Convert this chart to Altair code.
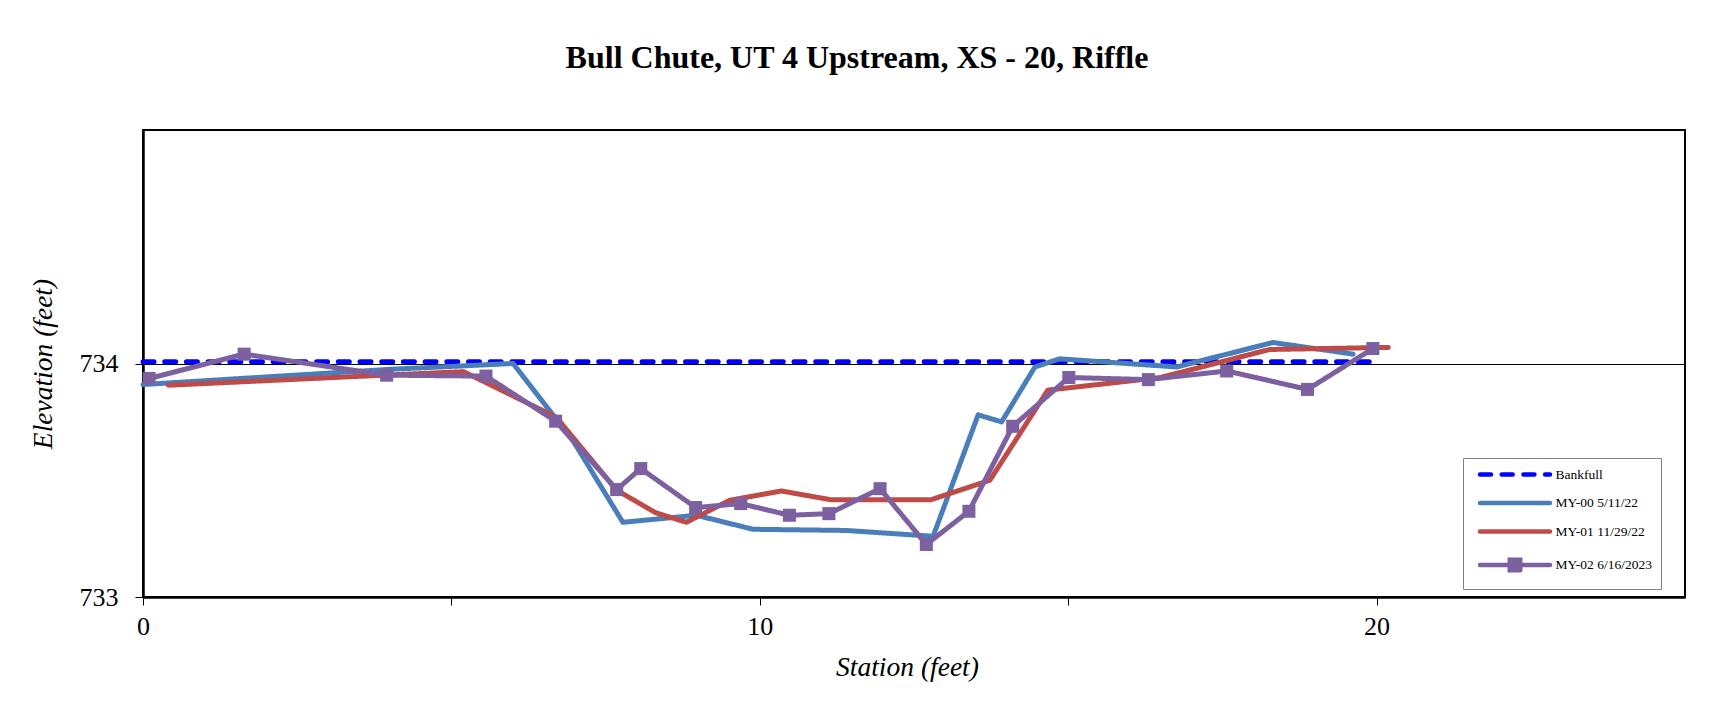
import altair as alt
import pandas as pd

series_names = ["Bankfull", "MY-00 5/11/22", "MY-01 11/29/22", "MY-02 6/16/2023"]
series_colors = ["#0000FF", "#4A7EBB", "#BE4B48", "#7D60A0"]

bank_x = [0.0, 19.92]
bank_y = [734.007, 734.007]

my00_x = [0.0, 4.0, 6.0, 6.97, 7.78, 8.97, 9.89, 11.4, 12.81, 13.54, 13.92, 14.46, 14.86, 16.76, 18.32, 19.62]
my00_y = [733.91, 733.975, 734.0, 733.67, 733.32, 733.35, 733.29, 733.285, 733.26, 733.78, 733.75, 733.985, 734.02, 733.985, 734.09, 734.04]

my01_x = [0.41, 3.9, 5.2, 6.70, 7.68, 8.32, 8.81, 9.51, 10.35, 11.14, 12.78, 13.73, 14.67, 16.5, 18.27, 20.19]
my01_y = [733.907, 733.95, 733.965, 733.77, 733.457, 733.36, 733.32, 733.414, 733.454, 733.417, 733.417, 733.50, 733.886, 733.94, 734.06, 734.069]

my02_x = [0.10, 1.64, 3.95, 5.56, 6.69, 7.68, 8.07, 8.96, 9.69, 10.48, 11.12, 11.95, 12.70, 13.39, 14.10, 15.01, 16.30, 17.57, 18.88, 19.94]
my02_y = [733.936, 734.04, 733.95, 733.946, 733.753, 733.46, 733.55, 733.383, 733.40, 733.35, 733.357, 733.464, 733.225, 733.367, 733.731, 733.94, 733.931, 733.968, 733.889, 734.064]

x_ticks = [0, 5, 10, 15, 20]
y_ticks = [733, 734]

rows = []
for name, xs, ys in zip(series_names, [bank_x, my00_x, my01_x, my02_x], [bank_y, my00_y, my01_y, my02_y]):
    for i, (sx, sy) in enumerate(zip(xs, ys)):
        rows.append({"series": name, "station": sx, "elevation": sy, "order": i})
df = pd.DataFrame(rows)

FONT = "Liberation Serif"

x_enc = alt.X("station:Q", scale=alt.Scale(domain=[0, 25], nice=False, zero=False),
              axis=alt.Axis(values=x_ticks, title="Station (feet)", format="d",
                            labelExpr="datum.value % 10 == 0 ? datum.label : ''",
                            labelFont=FONT, labelFontSize=26, labelColor="black",
                            labelFlush=False, labelPadding=8,
                            tickSize=8, tickColor="black", tickWidth=1,
                            domainColor="black", domainWidth=2.5,
                            titleFont=FONT, titleFontSize=27.5, titleFontStyle="italic",
                            titleFontWeight="normal", titleColor="black", titlePadding=14,
                            titleX=764, titleAnchor="middle",
                            grid=False))
y_enc = alt.Y("elevation:Q", scale=alt.Scale(domain=[733, 735], nice=False, zero=False),
              axis=alt.Axis(values=y_ticks, title="Elevation (feet)",
                            format="d",
                            labelFont=FONT, labelFontSize=26, labelColor="black",
                            labelPadding=17,
                            tickSize=8, tickColor="black", tickWidth=1,
                            domainColor="black", domainWidth=2.5,
                            grid=True, gridColor="black", gridWidth=1,
                            titleFont=FONT, titleFontSize=27.5, titleFontStyle="italic",
                            titleFontWeight="normal", titleColor="black", titlePadding=22))

legend = alt.Legend(
    title=None, orient="none", legendX=1320, legendY=328,
    symbolSize=100, symbolStrokeWidth=4.5, symbolOffset=35.5,
    labelFont=FONT, labelFontSize=13.5, labelColor="black",
    rowPadding=9.5, padding=9, labelOffset=33,
    strokeColor="#808080", fillColor="white",
)

LEGEND_ENCODE = {"symbols": {"update": {
    "shape": {"signal": "datum.value === 'MY-02 6/16/2023' ? 'M-7,0H7M-1.05,-1.05H1.05V1.05H-1.05Z' : 'M-7,0H7'"},
    "strokeDash": {"signal": "datum.value === 'Bankfull' ? [7.5, 8.5] : [1, 0]"},
    "strokeCap": {"value": "round"},
    "fill": {"signal": "datum.value === 'MY-02 6/16/2023' ? '#7D60A0' : 'transparent'"},
    "opacity": {"value": 1},
}}}


def _add_legend_encode(obj):
    if isinstance(obj, dict):
        if "legendX" in obj and "legendY" in obj:
            obj["encode"] = LEGEND_ENCODE
        for v in obj.values():
            _add_legend_encode(v)
    elif isinstance(obj, list):
        for v in obj:
            _add_legend_encode(v)


class PatchedLayer(alt.LayerChart):
    def to_dict(self, *args, **kwargs):
        d = super().to_dict(*args, **kwargs)
        _add_legend_encode(d)
        return d


base = alt.Chart(df)

lines = base.mark_line(strokeWidth=5, strokeCap="round", strokeJoin="round").encode(
    x=x_enc, y=y_enc,
    color=alt.Color("series:N", scale=alt.Scale(domain=series_names, range=series_colors), legend=legend),
    strokeDash=alt.StrokeDash("series:N", scale=alt.Scale(domain=series_names,
                                                          range=[[11, 10.7], [1, 0], [1, 0], [1, 0]]),
                              legend=None),
    order="order:Q",
)

points = base.transform_filter(alt.datum.series == "MY-02 6/16/2023").mark_square(
    size=170, color="#7D60A0", opacity=1
).encode(x="station:Q", y="elevation:Q")

chart = alt.layer(lines, points).properties(
    width=1542, height=467,
    background="white",
    title=alt.TitleParams("Bull Chute, UT 4 Upstream, XS - 20, Riffle", font=FONT, fontSize=32,
                          fontWeight="bold", color="black", anchor="middle", dx=-57, offset=55),
    autosize=alt.AutoSizeParams(type="none"),
    padding={"left": 135, "top": 122, "right": 30, "bottom": 90},
).configure_view(stroke="black", strokeWidth=2)

object.__setattr__(chart, "__class__", PatchedLayer)

chart.save("out.html", embed_options={"renderer": "svg", "actions": False})
